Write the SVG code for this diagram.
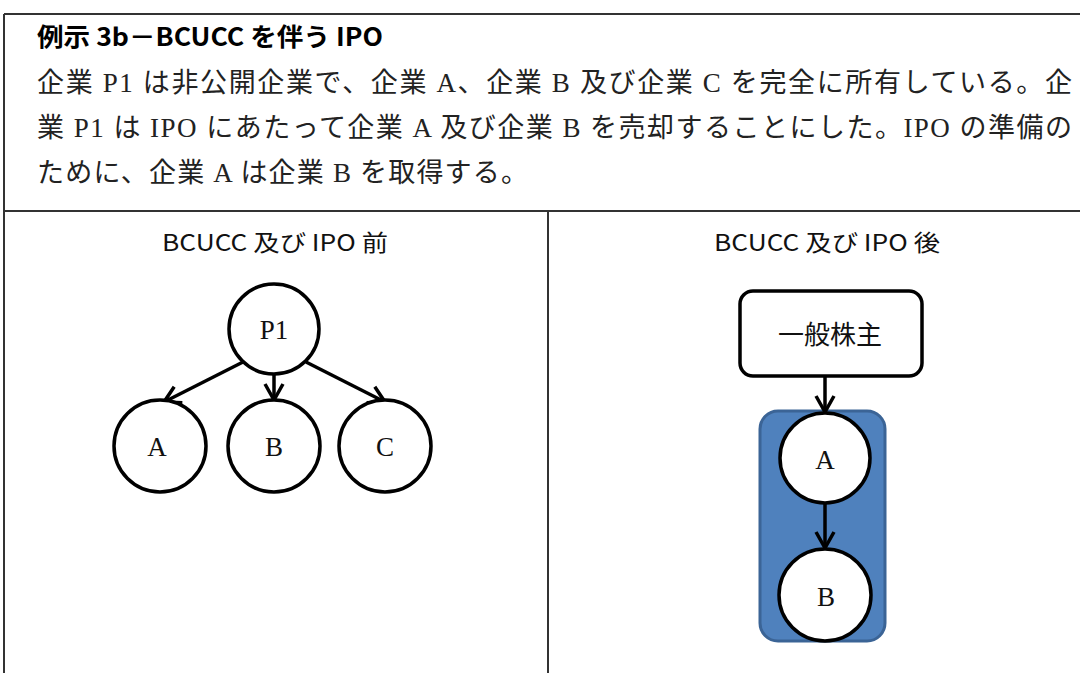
<svg xmlns="http://www.w3.org/2000/svg" width="1080" height="673" viewBox="0 0 1080 673">
<defs>
<style>
.frame{stroke:#333;stroke-width:2;fill:none}
.title{font-family:"Noto Sans CJK JP",sans-serif;font-weight:bold;font-size:25px;fill:#000}
.body{font-family:"Liberation Serif","Noto Sans CJK JP",serif;font-size:27px;fill:#222}
.head{font-family:"Noto Sans CJK JP",sans-serif;font-size:23px;fill:#111}
.node{fill:#fff;stroke:#000;stroke-width:3.5}
.lbl{font-family:"Liberation Serif","Noto Sans CJK JP",serif;font-size:27px;fill:#111;text-anchor:middle}
.edge{stroke:#000;stroke-width:3.5;fill:none}
</style>
<marker id="arr" viewBox="0 0 24 24" refX="21" refY="12" markerWidth="24" markerHeight="24" markerUnits="userSpaceOnUse" orient="auto">
<path d="M5,3 L21,12 L5,21" fill="none" stroke="#000" stroke-width="3.5"/>
</marker>
</defs>
<rect width="1080" height="673" fill="#fff"/>
<g id="frame">
<line class="frame" x1="4" y1="14" x2="1080" y2="14"/>
<line class="frame" x1="4" y1="14" x2="4" y2="673"/>
<line class="frame" x1="4" y1="211" x2="1080" y2="211"/>
<line class="frame" x1="548" y1="211" x2="548" y2="673"/>
</g>
<g id="texts">
<text class="title" x="37" y="46" textLength="346" lengthAdjust="spacingAndGlyphs">例示 3b－BCUCC を伴う IPO</text>
<text class="body" x="37" y="92" textLength="1035" lengthAdjust="spacing">企業 P1 は非公開企業で、企業 A、企業 B 及び企業 C を完全に所有している。企</text>
<text class="body" x="37" y="137" textLength="1035" lengthAdjust="spacing">業 P1 は IPO にあたって企業 A 及び企業 B を売却することにした。IPO の準備の</text>
<text class="body" x="37" y="182" textLength="491" lengthAdjust="spacing">ために、企業 A は企業 B を取得する。</text>
<text class="head" x="162" y="251" textLength="226" lengthAdjust="spacingAndGlyphs">BCUCC 及び IPO 前</text>
<text class="head" x="714" y="251" textLength="226" lengthAdjust="spacingAndGlyphs">BCUCC 及び IPO 後</text>
</g>
<g id="container">
<rect x="760" y="411" width="125" height="230" rx="18" fill="#4F81BD" stroke="#3B6496" stroke-width="3"/>
</g>
<g id="connectors">
<line class="edge" x1="243" y1="362" x2="164" y2="402" marker-end="url(#arr)"/>
<line class="edge" x1="274" y1="374" x2="274" y2="400" marker-end="url(#arr)"/>
<line class="edge" x1="306" y1="362" x2="385" y2="402" marker-end="url(#arr)"/>
<line class="edge" x1="825" y1="377" x2="825" y2="412" marker-end="url(#arr)"/>
<line class="edge" x1="825" y1="504" x2="825" y2="548" marker-end="url(#arr)"/>
</g>
<g id="node-P1"><circle class="node" cx="274" cy="329" r="45"/><text class="lbl" x="274" y="339">P1</text></g>
<g id="node-A1"><circle class="node" cx="160" cy="446" r="46"/><text class="lbl" x="157" y="456">A</text></g>
<g id="node-B1"><circle class="node" cx="274" cy="446" r="46"/><text class="lbl" x="274" y="456">B</text></g>
<g id="node-C1"><circle class="node" cx="385" cy="446" r="46"/><text class="lbl" x="385" y="456">C</text></g>
<g id="node-shareholders"><rect class="node" x="740" y="291" width="182" height="85" rx="13"/><text class="lbl" x="830" y="344" style="font-size:26px">一般株主</text></g>
<g id="node-A2"><circle class="node" cx="825" cy="458" r="45"/><text class="lbl" x="825" y="469">A</text></g>
<g id="node-B2"><circle class="node" cx="825" cy="595" r="46"/><text class="lbl" x="826" y="606">B</text></g>
</svg>
